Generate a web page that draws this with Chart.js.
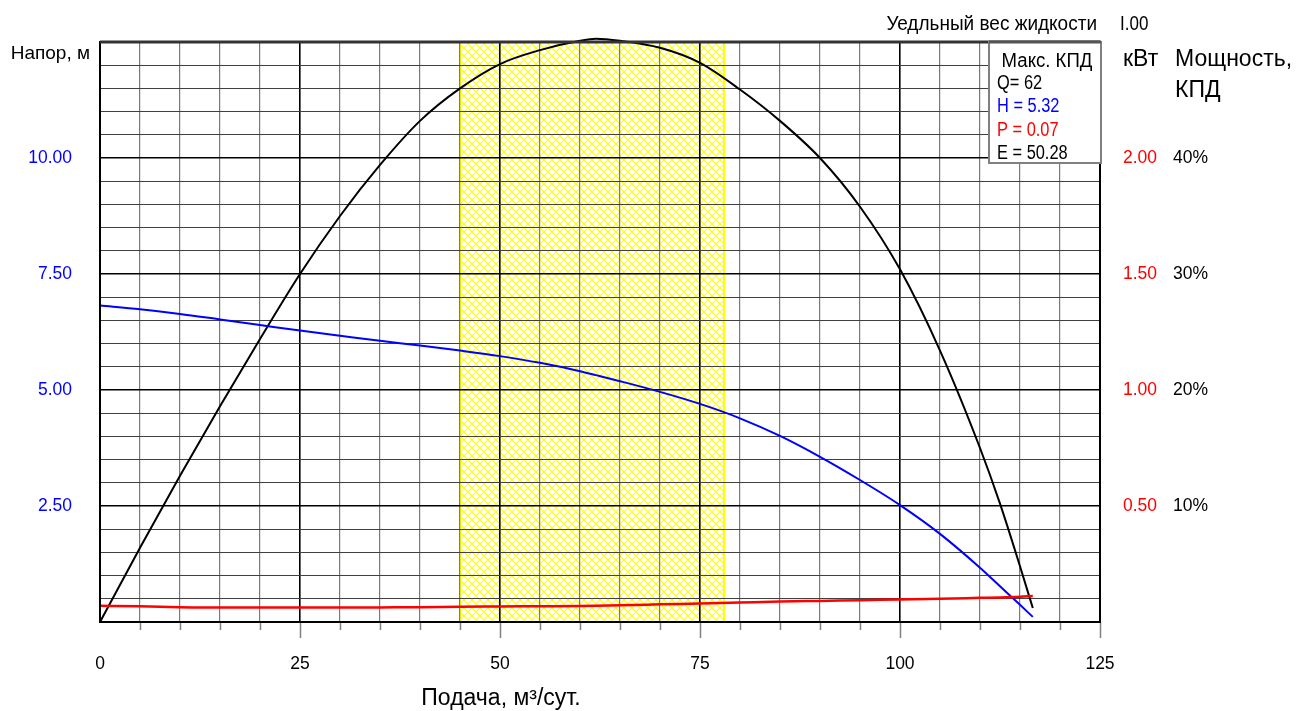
<!DOCTYPE html>
<html lang="ru">
<head>
<meta charset="utf-8">
<title>Характеристика насоса</title>
<script src="https://cdn.jsdelivr.net/npm/chart.js@4.4.1/dist/chart.umd.min.js"></script>
<style>
  html, body { margin: 0; padding: 0; background: #ffffff; }
  #wrap { width: 1298px; height: 711px; }
</style>
</head>
<body>
<div id="wrap"><canvas id="pump" width="1298" height="711"></canvas></div>
<script>
// Подача, м3/сут.
const flow = [0, 5, 10, 15, 20, 25, 30, 35, 40, 45, 50, 55, 60, 62, 65, 70, 75, 80, 85, 90, 95, 100, 105, 110, 112.5, 115, 116.6];
// Напор, м
const head = [6.82, 6.74, 6.64, 6.52, 6.40, 6.28, 6.17, 6.06, 5.96, 5.85, 5.73, 5.585, 5.405, 5.32, 5.19, 4.96, 4.70, 4.39, 4.01, 3.56, 3.06, 2.52, 1.90, 1.17, 0.77, 0.37, 0.11];
// Мощность, кВт
const power = [0.070, 0.068, 0.064, 0.062, 0.062, 0.062, 0.062, 0.063, 0.064, 0.066, 0.067, 0.068, 0.069, 0.070, 0.072, 0.076, 0.080, 0.084, 0.088, 0.091, 0.094, 0.097, 0.100, 0.104, 0.106, 0.109, 0.112];
// КПД, %
const efficiency = [0, 6.4, 12.6, 18.6, 24.4, 30.0, 35.0, 39.4, 43.2, 46.0, 48.1, 49.3, 50.1, 50.28, 50.1, 49.5, 48.2, 45.9, 43.2, 40.0, 35.8, 30.4, 23.4, 15.0, 10.2, 4.8, 1.2];

// Рабочая зона, м3/сут.
const workZone = [45, 78];
// Точка максимального КПД
const bestFlow = 62;
const specificGravity = 'I.00';

// Подписи шкал
const flowTicks = [0, 25, 50, 75, 100, 125];
const headTicks = [2.5, 5, 7.5, 10];
const powerTicks = [0.5, 1.0, 1.5, 2.0];
const effTicks = [10, 20, 30, 40];

const SANS = '"Liberation Sans", Arial, sans-serif';
const TICK_FONT = { family: SANS, size: 17.5 };

const pts = (ys) => flow.map((q, i) => ({ x: q, y: ys[i] }));
const near = (a, b) => Math.abs(a - b) < 1e-6;
const isMajor = (v, step) => near(v / step, Math.round(v / step));
const labelIn = (list, v) => list.some(t => near(t, v));

// condensed text: regular face squeezed horizontally
function narrowText(ctx, text, x, y, align, sx) {
  const w = ctx.measureText(text).width * sx;
  let left = x;
  if (align === 'center') left = x - w / 2;
  else if (align === 'right') left = x - w;
  ctx.save();
  ctx.translate(left, y);
  ctx.scale(sx, 1);
  ctx.textAlign = 'left';
  ctx.fillText(text, 0, 0);
  ctx.restore();
}

// yellow diamond mesh for the working zone
function hatchPattern(ctx) {
  const n = 8;
  const t = document.createElement('canvas');
  t.width = n; t.height = n;
  const c = t.getContext('2d');
  c.strokeStyle = '#ffff00';
  c.lineWidth = 1.1;
  c.beginPath();
  for (let k = -1; k <= 1; k++) {
    c.moveTo(k * n, 0); c.lineTo(k * n + n, n);
    c.moveTo(k * n + n, 0); c.lineTo(k * n, n);
  }
  c.stroke();
  return ctx.createPattern(t, 'repeat');
}

const decor = {
  id: 'decor',
  beforeDraw(chart) {
    const { ctx, chartArea: a, scales } = chart;
    const x0 = scales.x.getPixelForValue(workZone[0]);
    const x1 = scales.x.getPixelForValue(workZone[1]);
    ctx.save();
    ctx.fillStyle = hatchPattern(ctx);
    ctx.fillRect(x0, a.top, x1 - x0, a.bottom - a.top);
    ctx.strokeStyle = '#ffff00';
    ctx.lineWidth = 2;
    ctx.beginPath();
    ctx.moveTo(x0, a.top); ctx.lineTo(x0, a.bottom);
    ctx.moveTo(x1, a.top); ctx.lineTo(x1, a.bottom);
    ctx.stroke();
    ctx.restore();
  },
  afterDraw(chart) {
    const { ctx, chartArea: a, scales } = chart;
    ctx.save();

    // tick marks under the flow axis
    ctx.strokeStyle = '#808080';
    ctx.lineWidth = 1.5;
    ctx.beginPath();
    for (let q = 5; q <= 125; q += 5) {
      const px = Math.round(scales.x.getPixelForValue(q)) + 0.5;
      const len = q % 25 === 0 ? 16 : 8;
      ctx.moveTo(px, a.bottom);
      ctx.lineTo(px, a.bottom + len);
    }
    ctx.stroke();

    // plot frame
    ctx.strokeStyle = '#000';
    ctx.lineWidth = 2;
    ctx.strokeRect(a.left, a.top, a.right - a.left, a.bottom - a.top);
    ctx.strokeStyle = '#333';
    ctx.lineWidth = 3;
    ctx.beginPath();
    ctx.moveTo(a.left, a.top); ctx.lineTo(a.right, a.top);
    ctx.stroke();

    // axis titles
    ctx.fillStyle = '#000';
    ctx.textBaseline = 'alphabetic';
    ctx.font = '19px ' + SANS;
    ctx.textAlign = 'right';
    ctx.fillText('Напор, м', 90, 59);

    ctx.font = '23px ' + SANS;
    ctx.textAlign = 'left';
    ctx.fillText('кВт', 1123, 66);
    ctx.fillText('Мощность,', 1175, 66);
    ctx.fillText('КПД', 1175, 97);

    ctx.textAlign = 'center';
    ctx.fillText('Подача, м³/сут.', 501, 705);

    ctx.font = '20px ' + SANS;
    narrowText(ctx, 'Уедльный вес жидкости', 1097, 30, 'right', 0.95);
    narrowText(ctx, specificGravity, 1120, 30, 'left', 0.85);

    // best efficiency point box
    const i = flow.indexOf(bestFlow);
    const bx = 989, by = 42, bw = 112, bh = 121;
    ctx.fillStyle = '#fff';
    ctx.fillRect(bx, by, bw, bh);
    ctx.strokeStyle = '#808080';
    ctx.lineWidth = 2;
    ctx.strokeRect(bx, by, bw, bh);
    ctx.strokeStyle = '#555';
    ctx.lineWidth = 3;
    ctx.beginPath();
    ctx.moveTo(bx, by); ctx.lineTo(bx + bw, by);
    ctx.stroke();

    ctx.font = '20px ' + SANS;
    ctx.fillStyle = '#000';
    narrowText(ctx, 'Макс. КПД', 1047, 67, 'center', 0.93);
    const rows = [
      ['Q= ' + flow[i], '#000'],
      ['H = ' + head[i].toFixed(2), '#0000ff'],
      ['P = ' + power[i].toFixed(2), '#ff0000'],
      ['E = ' + efficiency[i].toFixed(2), '#000']
    ];
    rows.forEach((r, k) => {
      ctx.fillStyle = r[1];
      narrowText(ctx, r[0], 997, 89 + k * 23.4, 'left', 0.82);
    });
    ctx.restore();
  }
};

new Chart(document.getElementById('pump'), {
  type: 'line',
  data: {
    datasets: [
      { label: 'Мощность', data: pts(power), yAxisID: 'yP', borderColor: '#ff0000', borderWidth: 2.5 },
      { label: 'Напор', data: pts(head), yAxisID: 'y', borderColor: '#0000ff', borderWidth: 2 },
      { label: 'КПД', data: pts(efficiency), yAxisID: 'yE', borderColor: '#000000', borderWidth: 2 }
    ]
  },
  options: {
    responsive: false,
    animation: false,
    devicePixelRatio: 1,
    layout: { padding: { top: 42, left: 0, right: 0, bottom: 0 } },
    elements: {
      point: { radius: 0, hoverRadius: 0 },
      line: { cubicInterpolationMode: 'monotone', fill: false }
    },
    datasets: { line: { clip: false } },
    plugins: { legend: { display: false }, tooltip: { enabled: false }, title: { display: false } },
    events: [],
    scales: {
      x: {
        type: 'linear', position: 'bottom', min: 0, max: 125,
        afterFit(s) { s.height = 89; },
        border: { display: false },
        grid: {
          drawTicks: false,
          color: c => (c.tick && c.tick.value % 25 === 0) ? '#000' : '#7a7a7a',
          lineWidth: c => (c.tick && c.tick.value % 25 === 0) ? 1.6 : 1.2
        },
        ticks: {
          stepSize: 5, autoSkip: false, maxRotation: 0, padding: 32, maxTicksLimit: 100,
          color: '#000', font: TICK_FONT,
          callback: v => labelIn(flowTicks, v) ? String(v) : ''
        }
      },
      y: {
        type: 'linear', position: 'left', min: 0, max: 12.5,
        afterFit(s) { s.width = 100; },
        border: { display: false },
        grid: {
          drawTicks: false,
          color: c => (c.tick && isMajor(c.tick.value, 2.5)) ? '#000' : '#404040',
          lineWidth: c => (c.tick && isMajor(c.tick.value, 2.5)) ? 1.6 : 1
        },
        ticks: {
          stepSize: 0.5, autoSkip: false, padding: 28, maxTicksLimit: 100,
          color: '#0000ff', font: TICK_FONT,
          callback: v => labelIn(headTicks, v) ? v.toFixed(2) : ''
        }
      },
      yP: {
        type: 'linear', position: 'right', min: 0, max: 2.5,
        afterFit(s) { s.width = 73; },
        border: { display: false },
        grid: { drawOnChartArea: false, drawTicks: false },
        ticks: {
          stepSize: 0.5, autoSkip: false, padding: 23, maxTicksLimit: 100,
          color: '#ff0000', font: TICK_FONT,
          callback: v => labelIn(powerTicks, v) ? v.toFixed(2) : ''
        }
      },
      yE: {
        type: 'linear', position: 'right', min: 0, max: 50,
        afterFit(s) { s.width = 125; },
        border: { display: false },
        grid: { drawOnChartArea: false, drawTicks: false },
        ticks: {
          stepSize: 10, autoSkip: false, padding: 0, maxTicksLimit: 100,
          color: '#000', font: TICK_FONT,
          callback: v => labelIn(effTicks, v) ? v + '%' : ''
        }
      }
    }
  },
  plugins: [decor]
});
</script>
</body>
</html>
